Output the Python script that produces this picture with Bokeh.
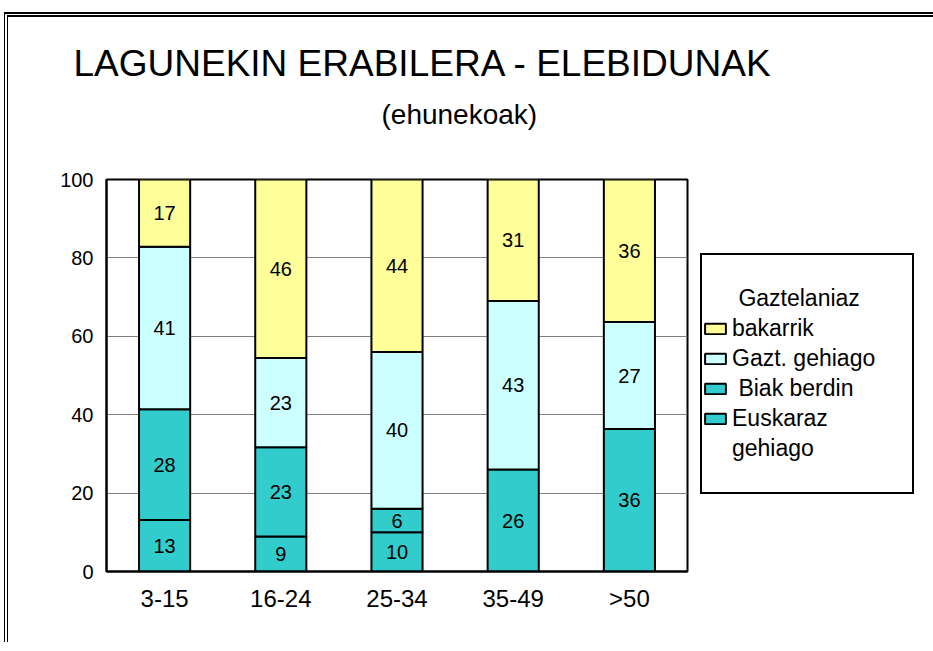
from bokeh.plotting import figure
from bokeh.models import (FactorRange, Range1d, Title, Legend, LegendItem,
                          ColumnDataSource, FixedTicker)
from bokeh.core.properties import value
from bokeh.embed import file_html
from bokeh.resources import INLINE

# ---- data -------------------------------------------------------------
categories = ["3-15", "16-24", "25-34", "35-49", ">50"]
euskaraz_gehiago = [13, 9, 10, 0, 0]
biak_berdin = [28, 23, 6, 26, 36]
gazt_gehiago = [41, 23, 40, 43, 27]
gaztelaniaz_bakarrik = [17, 46, 44, 31, 36]
y_ticks = [0, 20, 40, 60, 80, 100]

title_text = "LAGUNEKIN ERABILERA - ELEBIDUNAK"
subtitle_text = "(ehunekoak)"
# legend text, one entry per printed line
legend_lines = [" Gaztelaniaz", "bakarrik", "Gazt. gehiago", " Biak berdin",
                "Euskaraz", "gehiago"]

FONT = "Liberation Sans"
TEAL = "#33CCCC"
CYAN = "#CCFFFF"
YELLOW = "#FFFF99"

# ---- 100% stacking ----------------------------------------------------
series = [euskaraz_gehiago, biak_berdin, gazt_gehiago, gaztelaniaz_bakarrik]
keys = ["eus", "biak", "gg", "gb"]
colors = [TEAL, TEAL, CYAN, YELLOW]
totals = [sum(vals) for vals in zip(*series)]
shares = [[v / t * 100.0 for v, t in zip(s, totals)] for s in series]

data = {"cat": categories}
for k, sh in zip(keys, shares):
    data[k] = sh
source = ColumnDataSource(data)

lab_x, lab_y, lab_t = [], [], []
for i, c in enumerate(categories):
    base = 0.0
    for s, sh in zip(series, shares):
        if s[i] > 0:
            lab_x.append(c)
            lab_y.append(base + sh[i] / 2.0)
            lab_t.append(str(s[i]))
        base += sh[i]
lab_source = ColumnDataSource(dict(x=lab_x, y=lab_y, t=lab_t))

# ---- figure -----------------------------------------------------------
p = figure(x_range=FactorRange(factors=categories, range_padding=0),
           y_range=Range1d(0, 100),
           frame_width=581, frame_height=392,
           min_border_left=98, min_border_right=238,
           min_border_top=162, min_border_bottom=71,
           output_backend="svg", toolbar_location=None)
p.styles = {"border-top": "5px double black", "border-left": "4px double black",
            "margin-left": "4px", "margin-top": "12px"}
p.background_fill_color = "white"
p.border_fill_color = "white"
p.outline_line_color = "black"
p.outline_line_width = 2

renderers = p.vbar_stack(keys, x="cat", width=0.44, source=source,
                         fill_color=colors, line_color="black", line_width=2)
# invisible renderer used for text-only legend lines
blank = p.vbar(x=[], top=[], width=0.44, fill_alpha=0, line_alpha=0)

p.text(x="x", y="y", text="t", source=lab_source, text_align="center",
       text_baseline="middle", text_font=value(FONT), text_font_size="20px",
       text_color="black")

# axes
p.xgrid.grid_line_color = None
p.ygrid.grid_line_color = "#808080"
p.ygrid.grid_line_width = 1
p.yaxis.ticker = FixedTicker(ticks=y_ticks)
for ax in (p.xaxis[0], p.yaxis[0]):
    ax.axis_line_color = "black"
    ax.axis_line_width = 2
    ax.major_tick_line_color = None
    ax.minor_tick_line_color = None
    ax.major_tick_out = 0
    ax.major_tick_in = 0
    ax.major_label_text_font = FONT
    ax.major_label_text_color = "black"
p.yaxis.major_label_text_font_size = "20px"
p.yaxis.major_label_standoff = 13
p.xaxis.major_label_text_font_size = "24px"
p.xaxis.major_label_standoff = 13

# titles, stacked upward from the frame: spacer, subtitle, title
p.add_layout(Title(text="\u00a0", text_font_size="10px", standoff=24,
                   text_color="white"), "above")
p.add_layout(Title(text=subtitle_text, align="left", offset=275,
                   text_font=FONT, text_font_size="28px",
                   text_font_style="normal", text_color="black",
                   standoff=26), "above")
p.add_layout(Title(text=title_text, align="left", offset=-33,
                   text_font=FONT, text_font_size="37px",
                   text_font_style="normal", text_color="black",
                   standoff=0), "above")

# legend
nb = "\u00a0"
items = [LegendItem(label=nb, renderers=[blank]),
         LegendItem(label=legend_lines[0], renderers=[blank]),
         LegendItem(label=legend_lines[1], renderers=[renderers[3]]),
         LegendItem(label=legend_lines[2], renderers=[renderers[2]]),
         LegendItem(label=legend_lines[3], renderers=[renderers[1]]),
         LegendItem(label=legend_lines[4], renderers=[renderers[0]]),
         LegendItem(label=legend_lines[5], renderers=[blank]),
         LegendItem(label=nb, renderers=[blank])]
legend = Legend(items=items, location=(13, 77), orientation="vertical",
                label_text_font=FONT, label_text_font_size="23px",
                label_text_color="black", label_text_line_height=1.0,
                glyph_width=26, glyph_height=13, label_standoff=4,
                label_width=180, label_height=24, spacing=3, padding=0,
                margin=0,
                border_line_color="black", border_line_width=2,
                border_line_alpha=1.0,
                background_fill_color="white", background_fill_alpha=1.0)
p.add_layout(legend, "right")

open("out.html", "w").write(file_html(p, INLINE))
